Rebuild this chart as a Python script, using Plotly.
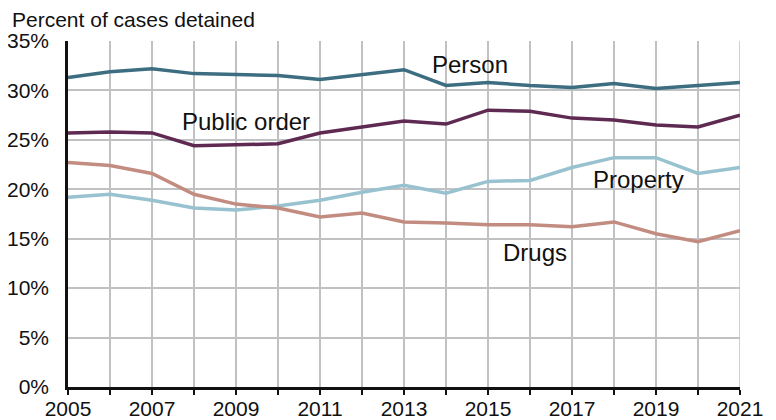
import plotly.graph_objects as go

years = list(range(2005, 2022))
person = [31.3, 31.9, 32.2, 31.7, 31.6, 31.5, 31.1, 31.6, 32.1, 30.5, 30.8, 30.5, 30.3, 30.7, 30.2, 30.5, 30.8]
public_order = [25.7, 25.8, 25.7, 24.4, 24.5, 24.6, 25.7, 26.3, 26.9, 26.6, 28.0, 27.9, 27.2, 27.0, 26.5, 26.3, 27.5]
property_ = [19.2, 19.5, 18.9, 18.1, 17.9, 18.3, 18.9, 19.7, 20.4, 19.6, 20.8, 20.9, 22.2, 23.2, 23.2, 21.6, 22.2]
drugs = [22.7, 22.4, 21.6, 19.5, 18.5, 18.1, 17.2, 17.6, 16.7, 16.6, 16.4, 16.4, 16.2, 16.7, 15.5, 14.7, 15.8]

series = [
    ("Person", person, "#3d6d80"),
    ("Public order", public_order, "#5e2a52"),
    ("Property", property_, "#98c2cf"),
    ("Drugs", drugs, "#c28c81"),
]
labels = [
    ("Person", 2014.57, 32.6),
    ("Public order", 2009.23, 26.85),
    ("Property", 2018.58, 21.0),
    ("Drugs", 2016.13, 13.65),
]
tick_text = [str(y) if y % 2 == 1 else "" for y in years]

FONT = "Liberation Sans, Arial, Helvetica, sans-serif"
fig = go.Figure()
for name, vals, col in series:
    fig.add_trace(go.Scatter(x=years, y=vals, mode="lines", name=name,
                             line=dict(color=col, width=3.5), showlegend=False))
for txt, x, y in labels:
    fig.add_annotation(x=x, y=y, text=txt, showarrow=False, yanchor="middle",
                       font=dict(size=24, color="#111111", family=FONT))

# page body has an 8px margin, so the figure is drawn 8px smaller and offset
fig.add_annotation(xref="paper", yref="paper", x=(2 - 60) / 672, y=1 + 22 / 346,
                   xanchor="left", yanchor="middle",
                   text="Percent of cases detained", showarrow=False,
                   font=dict(size=21, color="#111111", family=FONT))

fig.update_layout(
    width=768, height=412,
    margin=dict(l=60, r=36, t=33, b=33, autoexpand=False),
    plot_bgcolor="white", paper_bgcolor="white",
    font=dict(family=FONT, size=21, color="#111111"),
    xaxis=dict(range=[2005, 2021], tickvals=years, ticktext=tick_text,
               showgrid=True, gridcolor="#bfc1c3", gridwidth=1.5,
               ticks="outside", ticklen=5, tickwidth=1.5, tickcolor="#111111",
               showline=True, linecolor="#111111", linewidth=2.5,
               tickfont=dict(size=21), ticklabelstandoff=-4,
               zeroline=False, fixedrange=True),
    yaxis=dict(range=[0, 35], dtick=5, ticksuffix="%",
               showgrid=True, gridcolor="#bfc1c3", gridwidth=1.5,
               showline=True, linecolor="#111111", linewidth=2.5,
               tickfont=dict(size=21), zeroline=False, ticks="",
               ticklabelstandoff=12, fixedrange=True),
)
fig.add_shape(type="line", xref="x", yref="paper", x0=2021, x1=2021, y0=0, y1=1,
              line=dict(color="#bfc1c3", width=1.5), layer="below")
fig.write_html("out.html")
